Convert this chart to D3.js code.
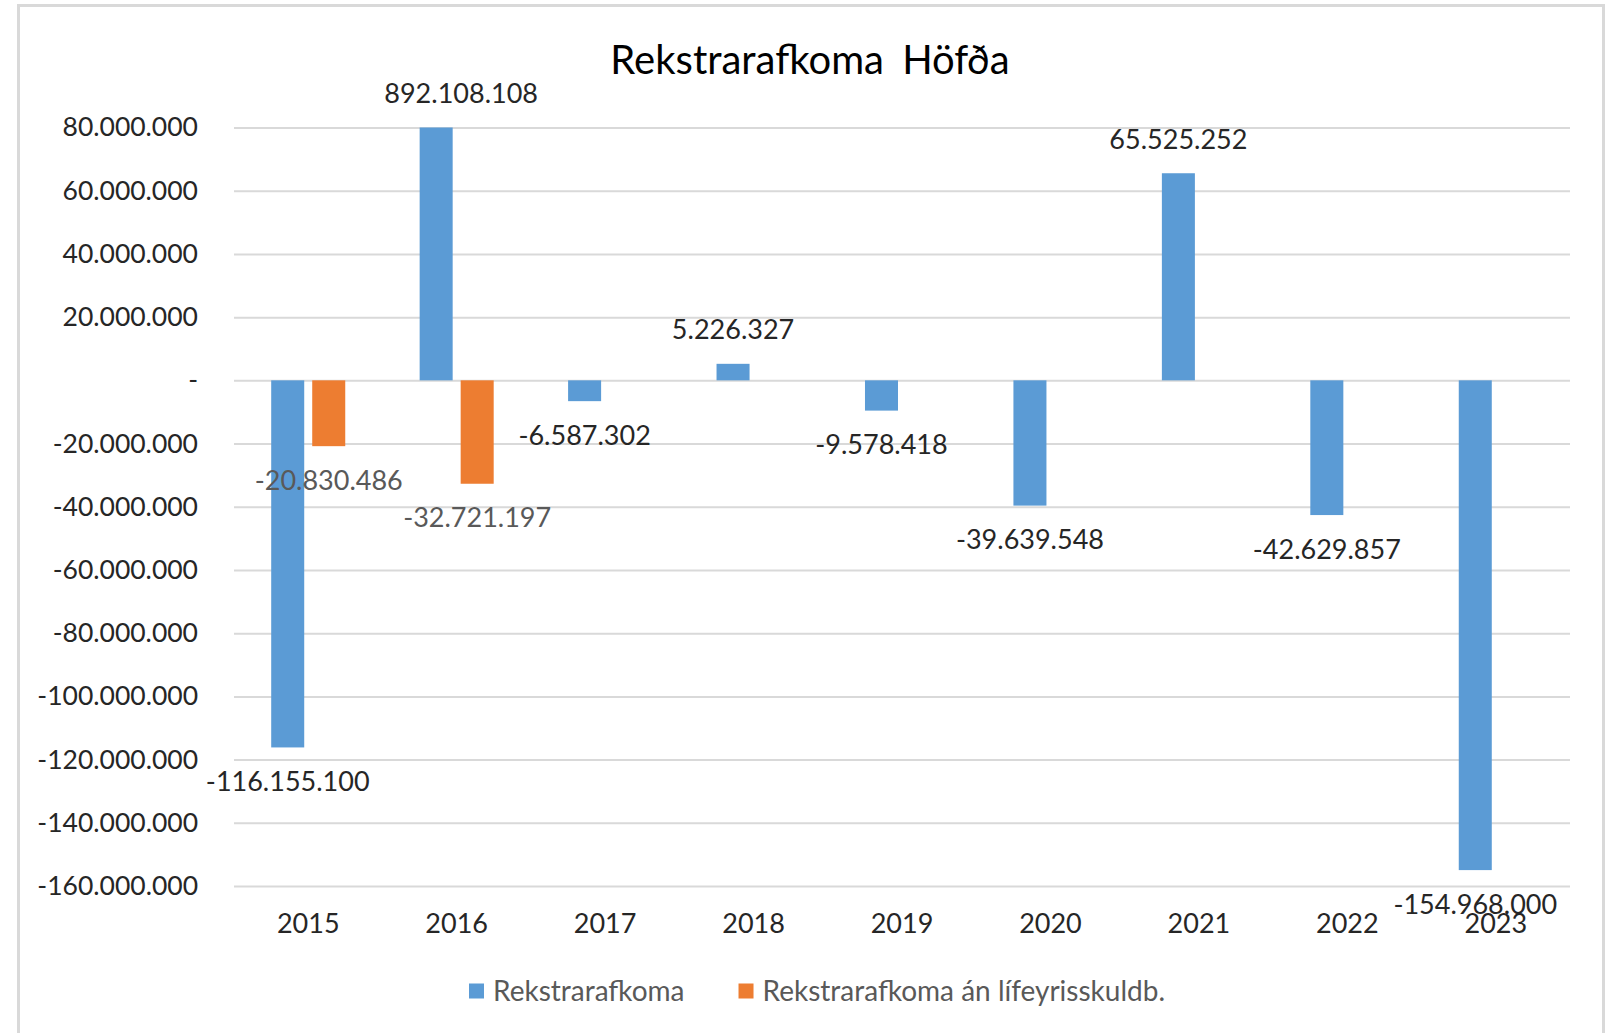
<!DOCTYPE html>
<html>
<head>
<meta charset="utf-8">
<script src="https://cdn.jsdelivr.net/npm/d3@7"></script>
<style>
  body { margin: 0; background: #fff; }
  text { font-family: Lato, "Open Sans", sans-serif; }
</style>
</head>
<body>
<div id="chart"></div>
<script>
(function () {

  /***** Data *****/
  var years = ["2015", "2016", "2017", "2018", "2019", "2020", "2021", "2022", "2023"]
  var rekstrarafkoma = [-116155100, 892108108, -6587302, 5226327, -9578418, -39639548, 65525252, -42629857, -154968000]
  var anLifeyris = [-20830486, -32721197, null, null, null, null, null, null, null]
  var yTickValues = [80000000, 60000000, 40000000, 20000000, 0, -20000000, -40000000, -60000000, -80000000, -100000000, -120000000, -140000000, -160000000]
  var seriesNames = ["Rekstrarafkoma", "Rekstrarafkoma án lífeyrisskuldb."]
  var seriesColors = ["#5b9bd5", "#ed7d31"]
  var labelColors = ["#262626", "#595959"]

  /***** Configuration *****/
  var width = 1612
  var height = 1033
  var plot = { left: 234, right: 1570, top: 127.5, bottom: 886 }
  // the 2016 label sits off its clipped bar in the original
  var labelNudge = { "2016-0": 25 }

  var locale = d3.formatLocale({ decimal: ",", thousands: ".", grouping: [3], currency: ["", ""], minus: "-" })
  var fmt = locale.format(",.0f")
  var fmtTick = function (d) { return d === 0 ? "-" : fmt(d) }

  var rows = years.map(function (yr, i) {
    return { year: yr, values: [rekstrarafkoma[i], anLifeyris[i]] }
  })

  var svg = d3.select("#chart")
    .append("svg")
    .attr("width", width)
    .attr("height", height)

  // chart area border
  svg.append("rect")
    .attr("x", 18.5)
    .attr("y", 5.5)
    .attr("width", 1585)
    .attr("height", 1040)
    .attr("fill", "#fff")
    .attr("stroke", "#d9d9d9")
    .attr("stroke-width", 3)

  var x = d3.scaleBand()
    .domain(years)
    .range([plot.left, plot.right])

  var x1 = d3.scaleBand()
    .domain([0, 1])
    .range([0, x.bandwidth()])
    .paddingInner(0.195)
    .paddingOuter(0.907)

  var y = d3.scaleLinear()
    .domain([-160000000, 80000000])
    .range([plot.bottom, plot.top])
    .clamp(true)

  // gridlines
  var grid = svg.append("g")
    .attr("transform", "translate(" + plot.left + ",0)")
    .call(d3.axisLeft(y).tickValues(yTickValues).tickSize(-(plot.right - plot.left)).tickFormat(""))
  grid.select(".domain").remove()
  grid.selectAll("line").attr("stroke", "#d9d9d9").attr("stroke-width", 2)

  // y axis labels
  var yAxis = svg.append("g")
    .attr("transform", "translate(" + plot.left + ",0)")
    .call(d3.axisLeft(y).tickValues(yTickValues).tickSize(0).tickPadding(36).tickFormat(fmtTick))
  yAxis.select(".domain").remove()
  yAxis.selectAll("text")
    .attr("fill", "#262626")
    .style("font-size", "26.5px")

  // x axis labels
  var xAxis = svg.append("g")
    .attr("transform", "translate(0," + plot.bottom + ")")
    .call(d3.axisBottom(x).tickSize(0))
  xAxis.select(".domain").remove()
  xAxis.selectAll("text")
    .attr("y", 38)
    .attr("dy", "0.35em")
    .attr("fill", "#262626")
    .style("font-size", "27px")

  // bars
  var groups = svg.append("g")
    .selectAll("g")
    .data(rows)
    .join("g")
    .attr("transform", function (d) { return "translate(" + x(d.year) + ",0)" })

  var cells = groups.selectAll("g")
    .data(function (d) {
      return d.values.map(function (v, k) { return { year: d.year, k: k, v: v } }).filter(function (c) { return c.v !== null })
    })
    .join("g")

  cells.append("rect")
    .attr("x", function (d) { return x1(d.k) })
    .attr("width", x1.bandwidth())
    .attr("y", function (d) { return Math.min(y(d.v), y(0)) })
    .attr("height", function (d) { return Math.abs(y(d.v) - y(0)) })
    .attr("fill", function (d) { return seriesColors[d.k] })

  cells.append("text")
    .attr("x", function (d) { return x1(d.k) + x1.bandwidth() / 2 + (labelNudge[d.year + "-" + d.k] || 0) })
    .attr("y", function (d) { return d.v >= 0 ? y(d.v) - 34 : y(d.v) + 34 })
    .attr("dy", "0.35em")
    .attr("text-anchor", "middle")
    .attr("fill", function (d) { return labelColors[d.k] })
    .style("font-size", "27px")
    .text(function (d) { return fmt(d.v) })

  // title
  svg.append("text")
    .attr("x", 810)
    .attr("y", 60)
    .attr("dy", "0.35em")
    .attr("text-anchor", "middle")
    .attr("fill", "#000")
    .style("font-size", "40px")
    .style("word-spacing", "8px")
    .text("Rekstrarafkoma Höfða")

  // legend
  var legend = svg.append("g")
  var lx = 0
  var items = legend.selectAll("g")
    .data(seriesNames)
    .join("g")
  items.append("rect")
    .attr("y", -7.5)
    .attr("width", 15)
    .attr("height", 15)
    .attr("fill", function (d, i) { return seriesColors[i] })
  items.append("text")
    .attr("x", 24)
    .attr("dy", "0.35em")
    .attr("fill", "#595959")
    .style("font-size", "28px")
    .text(function (d) { return d })
  items.each(function () {
    var g = d3.select(this)
    g.attr("transform", "translate(" + lx + ",0)")
    lx += 24 + g.select("text").node().getComputedTextLength() + 54
  })
  var legendWidth = lx - 54
  legend.attr("transform", "translate(" + (817 - legendWidth / 2) + ",991)")

})()
</script>
</body>
</html>
